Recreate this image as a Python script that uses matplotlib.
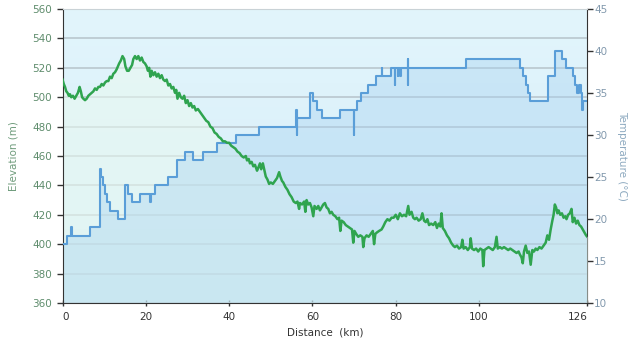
import numpy as np
import matplotlib.pyplot as plt
from matplotlib.colors import LinearSegmentedColormap

# elevation profile (km, m)
elev_km = [0.0, 0.3, 0.6, 0.9, 1.2, 1.5, 1.8, 2.1, 2.5, 2.9, 3.3, 3.7, 4.1, 4.4, 4.7, 5.0, 5.4, 5.8, 6.2, 6.6,
           7.0, 7.4, 7.8, 8.2, 8.6, 9.0, 9.4, 9.8, 10.2, 10.6, 11.0, 11.4, 11.8, 12.2, 12.6, 13.0, 13.3, 13.6, 14.0, 14.4,
           14.8, 15.1, 15.5, 15.9, 16.3, 16.7, 17.0, 17.4, 17.8, 18.2, 18.6, 19.0, 19.4, 19.8, 20.2, 20.5, 20.8, 21.1, 21.4, 21.8,
           22.2, 22.6, 23.0, 23.4, 23.8, 24.2, 24.6, 25.0, 25.4, 25.8, 26.2, 26.6, 27.0, 27.3, 27.6, 28.0, 28.4, 28.8, 29.2, 29.6,
           30.0, 30.4, 30.8, 31.2, 31.6, 32.0, 32.5, 33.0, 33.5, 34.0, 34.5, 35.0, 35.5, 36.0, 36.5, 37.0, 37.5, 38.0, 38.5, 39.0,
           39.5, 40.0, 40.5, 41.0, 41.5, 42.0, 42.5, 43.0, 43.5, 44.0, 44.3, 44.7, 45.0, 45.4, 45.8, 46.2, 46.7, 47.0, 47.4, 47.7,
           48.1, 48.5, 48.8, 49.2, 49.6, 50.0, 50.5, 51.0, 51.5, 52.0, 52.3, 52.7, 53.0, 53.5, 54.0, 54.5, 55.0, 55.5, 56.0, 56.4,
           56.8, 57.0, 57.5, 58.0, 58.3, 58.6, 59.0, 59.4, 59.8, 60.2, 60.5, 61.0, 61.4, 61.8, 62.2, 62.6, 63.0, 63.4, 63.8, 64.2,
           64.6, 65.0, 65.5, 66.0, 66.4, 66.7, 67.0, 67.5, 68.0, 68.5, 69.0, 69.5, 69.8, 70.1, 70.5, 71.0, 71.5, 72.0, 72.2, 72.5,
           73.0, 73.5, 74.0, 74.5, 74.8, 75.1, 75.5, 76.0, 76.6, 77.0, 77.5, 78.0, 78.5, 79.0, 79.5, 80.0, 80.5, 81.0, 81.5, 82.0,
           82.5, 83.0, 83.3, 83.8, 84.2, 84.6, 85.0, 85.5, 86.0, 86.4, 86.8, 87.2, 87.6, 88.0, 88.5, 89.0, 89.5, 89.9, 90.3, 90.7,
           91.0, 91.3, 91.8, 92.3, 92.8, 93.3, 93.8, 94.2, 94.7, 95.2, 95.7, 96.0, 96.3, 96.8, 97.3, 97.8, 98.0, 98.3, 98.8, 99.3,
           99.8, 100.3, 100.8, 101.0, 101.3, 101.8, 102.3, 102.8, 103.3, 103.8, 104.2, 104.5, 105.0, 105.5, 106.0, 106.5, 107.0, 107.5, 108.0, 108.5,
           109.0, 109.5, 109.8, 110.2, 110.5, 110.8, 111.2, 111.6, 112.0, 112.4, 112.8, 113.2, 113.6, 114.0, 114.5, 115.0, 115.5, 116.0, 116.4, 116.8,
           117.2, 117.6, 117.9, 118.2, 118.5, 118.8, 119.1, 119.5, 119.9, 120.3, 120.7, 121.0, 121.4, 121.8, 122.2, 122.5, 122.9, 123.3, 123.7, 124.1,
           124.5, 124.9, 125.3, 125.7, 126.0]
elev_m = [512, 509, 507, 504, 503, 501, 502, 500, 501, 499, 501, 503, 507, 504, 500, 499, 498, 499, 501, 502,
          503, 504, 506, 505, 507, 507, 509, 508, 510, 511, 511, 514, 513, 516, 517, 519, 521, 523, 525, 528,
          526, 521, 518, 518, 520, 522, 526, 528, 526, 528, 525, 527, 524, 523, 521, 518, 520, 514, 518, 515,
          517, 514, 516, 513, 515, 512, 511, 512, 508, 509, 506, 507, 503, 505, 499, 503, 500, 499, 501, 496,
          498, 494, 496, 493, 494, 491, 492, 490, 488, 486, 484, 483, 480, 479, 476, 475, 473, 472, 470, 470,
          469, 469, 467, 466, 465, 463, 462, 460, 459, 460, 457, 458, 455, 456, 453, 454, 450, 452, 455, 451,
          455, 450, 446, 444, 441, 442, 441, 443, 445, 449, 446, 443, 442, 439, 437, 434, 432, 429, 428, 429,
          424, 428, 427, 429, 422, 430, 427, 428, 425, 419, 426, 424, 426, 423, 425, 427, 428, 425, 424, 421,
          422, 420, 419, 417, 418, 409, 416, 415, 413, 412, 411, 410, 401, 409, 407, 405, 406, 405, 398, 404,
          406, 405, 407, 409, 400, 407, 408, 409, 410, 412, 415, 417, 416, 418, 418, 420, 417, 421, 419, 420,
          419, 426, 420, 422, 418, 417, 418, 416, 417, 421, 416, 415, 417, 413, 414, 413, 415, 411, 414, 412,
          421, 411, 409, 406, 404, 401, 399, 398, 399, 397, 398, 403, 397, 398, 396, 398, 404, 397, 396, 397,
          395, 397, 396, 385, 396, 397, 398, 397, 396, 398, 405, 397, 398, 397, 398, 397, 396, 397, 396, 395,
          394, 395, 393, 391, 387, 395, 399, 394, 395, 386, 396, 395, 397, 396, 398, 397, 399, 401, 406, 403,
          410, 416, 420, 427, 425, 421, 423, 420, 421, 418, 419, 417, 420, 421, 424, 415, 418, 414, 416, 413,
          412, 410, 408, 406, 405]

# temperature steps (km, degC), each value holds until the next distance
temp_km = [0.0, 1.0, 2.1, 2.3, 6.6, 9.0, 9.2, 9.6, 10.2, 10.6, 11.4, 13.2, 15.0, 15.8, 16.6, 18.6, 21.0, 21.2, 22.2,
           25.4, 27.4, 29.4, 31.4, 33.8, 37.0, 41.6, 47.2, 56.15, 56.2, 56.25, 59.4, 60.2, 61.0, 62.4, 66.6, 69.9, 70.0,
           70.6, 71.7, 73.3, 75.2, 76.6, 76.8, 78.8, 79.8, 79.9, 80.5, 80.6, 81.1, 81.2, 82.95, 83.0, 83.05, 96.8,
           109.8, 110.6, 111.2, 111.8, 112.2, 116.6, 118.2, 119.8, 120.9, 122.5, 123.0, 123.5, 123.9, 124.6, 124.7, 124.85, 126.0]
temp_c = [17, 18, 19, 18, 19, 26, 25, 24, 23, 22, 21, 20, 24, 23, 22, 23, 22, 23, 24,
          25, 27, 28, 27, 28, 29, 30, 31, 33, 30, 32, 35, 34, 33, 32, 33, 30, 33,
          34, 35, 36, 37, 38, 37, 38, 36, 38, 37, 38, 37, 38, 39, 36, 38, 39,
          38, 37, 36, 35, 34, 37, 40, 39, 38, 37, 36, 35, 36, 35, 33, 34, 34]

elev_ticks = [360, 380, 400, 420, 440, 460, 480, 500, 520, 540, 560]
temp_ticks = [10, 15, 20, 25, 30, 35, 40, 45]
dist_ticks = [0, 20, 40, 60, 80, 100, 126]

green = '#2fa44f'
blue = '#5a9ed8'

fig = plt.figure(figsize=(6.4, 3.49), dpi=100)
ax = fig.add_axes([0.0977, 0.132, 0.820, 0.842])
ax2 = ax.twinx()
ax.set_zorder(2)
ax2.set_zorder(1)
ax.patch.set_visible(False)

ax.set_xlim(0, 126)
ax.set_ylim(360, 560)
ax2.set_ylim(10, 45)

# background gradient
bg = LinearSegmentedColormap.from_list('bg', ['#d6edf8', '#e2f5fc'])
grad = np.linspace(0, 1, 256).reshape(-1, 1)
ax2.imshow(grad, cmap=bg, origin='lower', aspect='auto', extent=[0, 126, 10, 45], zorder=0)

# temperature (drawn in ax with ax2 scale so layering is controllable)
ax.fill_between(temp_km, 10, temp_c, step='post', transform=ax2.transData,
                color='#a6d2f0', alpha=0.38, lw=0, zorder=1)
ax.fill_between(elev_km, 360, elev_m, color='#eafaf0', alpha=0.55, lw=0, zorder=0.9)

ax.set_yticks(elev_ticks)
ax.yaxis.grid(True, color='#b6c3ca', lw=1.1, zorder=1.5)
ax.set_axisbelow(True)

ax.plot(temp_km, temp_c, drawstyle='steps-post', transform=ax2.transData,
        color=blue, lw=1.5, zorder=3)
ax.plot(elev_km, elev_m, color=green, lw=1.8, zorder=4)

ax.set_xticks(dist_ticks)
ax2.set_yticks(temp_ticks)

for a in (ax, ax2):
    for s in a.spines.values():
        s.set_visible(False)
ax.spines['left'].set_visible(True)
ax.spines['left'].set_color('#333333')
ax.spines['bottom'].set_visible(True)
ax.spines['bottom'].set_color('#333333')
ax2.spines['right'].set_visible(True)
ax2.spines['right'].set_color('#333333')
ax.spines['top'].set_visible(True)
ax.spines['top'].set_color('#c9d2d6')

ax.tick_params(axis='y', colors='#333333', labelcolor='#5e8c6c', labelsize=7.5, length=4, width=1)
ax.tick_params(axis='x', colors='#333333', labelcolor='#333333', labelsize=7.5, length=5, width=1,
               direction='inout', pad=4)
ax2.tick_params(axis='y', colors='#333333', labelcolor='#8299ad', labelsize=7.5, length=4, width=1, pad=1)

xlabels = ax.get_xticklabels()
xlabels[0].set_ha('left')
xlabels[-1].set_ha('right')

ax.set_ylabel('Elevation (m)', color='#6f9c7c', fontsize=7.5, labelpad=10)
ax2.set_ylabel('Temperature (°C)', color='#8eaac0', fontsize=7.5, rotation=270, labelpad=14)
ax.set_xlabel('Distance  (km)', color='#333333', fontsize=7.5, labelpad=4)

plt.savefig('out.png', dpi=100)
